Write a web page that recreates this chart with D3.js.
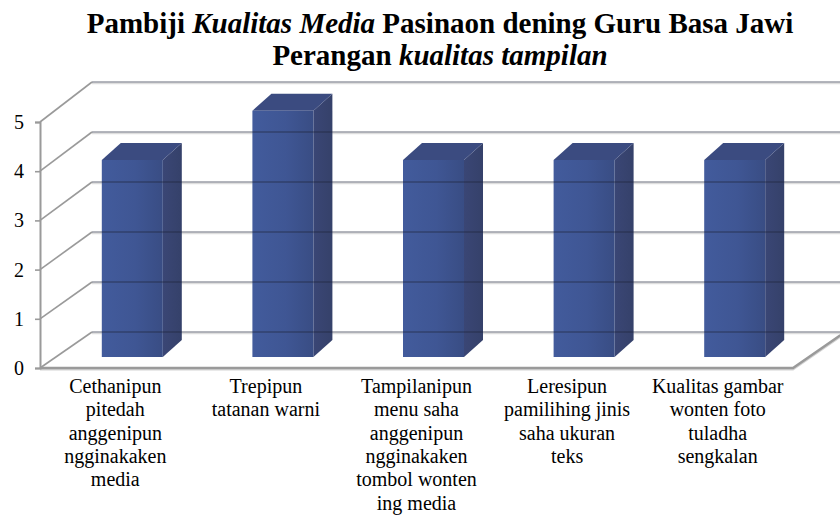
<!DOCTYPE html>
<html>
<head>
<meta charset="utf-8">
<script src="https://cdn.jsdelivr.net/npm/d3@7"></script>
<style>
  html, body { margin: 0; padding: 0; background: #fff; }
  svg { display: block; }
</style>
</head>
<body>
<svg id="chart" width="840" height="517"></svg>
<script>
// ---- data ----
const categories = [
  "Cethanipun\npitedah\nanggenipun\nngginakaken\nmedia",
  "Trepipun\ntatanan warni",
  "Tampilanipun\nmenu saha\nanggenipun\nngginakaken\ntombol wonten\ning media",
  "Leresipun\npamilihing jinis\nsaha ukuran\nteks",
  "Kualitas gambar\nwonten foto\ntuladha\nsengkalan"
];
const values = [4, 5, 4, 4, 4];
const tickValues = [0, 1, 2, 3, 4, 5];
const titleLine1 = [["Pambiji ", false], ["Kualitas Media", true], [" Pasinaon dening Guru Basa Jawi", false]];
const titleLine2 = [["Perangan ", false], ["kualitas tampilan", true]];

// ---- layout ----
const svg = d3.select("#chart");
const FONT = "\"Liberation Serif\", \"Times New Roman\", Tinos, serif";
const frontLeft = 40, frontRight = 793;
const wallDX = 52;            // depth shift of back wall
const barShift = 17;          // bar front plane x shift
const barW = 61;              // bar front width
const barDX = 19, barDY = -17;// bar depth

const x = d3.scaleBand().domain(categories).range([frontLeft, frontRight]).paddingInner(0).paddingOuter(0);
const yFront = d3.scaleLinear().domain([0, 5]).range([368, 122]);
const yBack = d3.scaleLinear().domain([0, 5]).range([332, 82]);
const yBar = d3.scaleLinear().domain([0, 5]).range([357, 110.75]);

const defs = svg.append("defs");
const gFront = defs.append("linearGradient").attr("id", "gFront").attr("x1", 0).attr("x2", 1).attr("y1", 0).attr("y2", 0);
gFront.append("stop").attr("offset", 0).attr("stop-color", "#425b9c");
gFront.append("stop").attr("offset", 0.55).attr("stop-color", "#3f5694");
gFront.append("stop").attr("offset", 1).attr("stop-color", "#394d84");
const gSide = defs.append("linearGradient").attr("id", "gSide").attr("x1", 0).attr("x2", 1).attr("y1", 0).attr("y2", 0);
gSide.append("stop").attr("offset", 0).attr("stop-color", "#3a4675");
gSide.append("stop").attr("offset", 1).attr("stop-color", "#35416a");

// ---- title ----
const title = svg.append("text")
  .attr("x", 440).attr("text-anchor", "middle")
  .style("font-family", FONT).style("font-size", "29px").style("font-weight", "bold").attr("fill", "#000");
const t1 = title.append("tspan").attr("x", 440).attr("y", 33);
titleLine1.forEach(([s, it]) => t1.append("tspan").style("font-style", it ? "italic" : "normal").text(s));
const t2 = title.append("tspan").attr("x", 440).attr("y", 65);
titleLine2.forEach(([s, it]) => t2.append("tspan").style("font-style", it ? "italic" : "normal").text(s));

// ---- walls / grid (behind) ----
const grid = svg.append("g");
grid.selectAll("line.diag").data(tickValues).join("line")
  .attr("x1", frontLeft).attr("y1", d => yFront(d))
  .attr("x2", frontLeft + wallDX).attr("y2", d => yBack(d))
  .attr("stroke", "#9a9a9a").attr("stroke-width", 1.6);
const floorPts = [[frontLeft, yFront(0)], [frontRight, yFront(0)], [frontRight + wallDX, yBack(0)]];
grid.append("path").attr("d", d3.line()(floorPts.map(p => [p[0], p[1] + 1.6])))
  .attr("fill", "none").attr("stroke", "#d4d4d4").attr("stroke-width", 2);
grid.append("path").attr("d", d3.line()(floorPts))
  .attr("fill", "none").attr("stroke", "#9a9a9a").attr("stroke-width", 2.4);
grid.selectAll("line.shadow").data(tickValues).join("line")
  .attr("x1", frontLeft + wallDX).attr("x2", 850)
  .attr("y1", d => yBack(d) + 1.5).attr("y2", d => yBack(d) + 1.5)
  .attr("stroke", "#dedede").attr("stroke-width", 1.5);

// ---- bars ----
const bars = svg.append("g").selectAll("g").data(categories.map((c, i) => ({ c, v: values[i] }))).join("g");
const bx = d => x(d.c) + x.bandwidth() / 2 - barW / 2 + barShift;
bars.append("path").attr("fill", "url(#gSide)")
  .attr("d", d => {
    const x0 = bx(d) + barW, yT = yBar(d.v), yB = yBar(0);
    return `M${x0},${yT}L${x0 + barDX},${yT + barDY}L${x0 + barDX},${yB + barDY}L${x0},${yB}Z`;
  });
bars.append("path").attr("fill", "#3b4b80")
  .attr("d", d => {
    const x0 = bx(d), yT = yBar(d.v);
    return `M${x0},${yT}L${x0 + barDX},${yT + barDY}L${x0 + barW + barDX},${yT + barDY}L${x0 + barW},${yT}Z`;
  });
bars.append("rect").attr("fill", "url(#gFront)")
  .attr("x", d => bx(d)).attr("y", d => yBar(d.v))
  .attr("width", barW).attr("height", d => yBar(0) - yBar(d.v));

// ---- back gridlines (over bars, semi-transparent) ----
svg.append("g").selectAll("line").data(tickValues).join("line")
  .attr("x1", frontLeft + wallDX).attr("x2", 850)
  .attr("y1", d => yBack(d)).attr("y2", d => yBack(d))
  .attr("stroke", "#20243a").attr("stroke-opacity", 0.45).attr("stroke-width", 1.7);

// ---- y axis ----
const yAxis = svg.append("g").attr("transform", `translate(${frontLeft},0)`)
  .call(d3.axisLeft(yFront).tickValues(tickValues).tickFormat(d3.format("d")).tickSize(5).tickPadding(11));
yAxis.attr("font-family", null).attr("font-size", null);
yAxis.select(".domain").attr("stroke", "#9a9a9a").attr("stroke-width", 2);
yAxis.selectAll(".tick line").attr("stroke", "#9a9a9a").attr("stroke-width", 1.6);
yAxis.selectAll(".tick text").style("font-family", FONT).style("font-size", "20px").attr("fill", "#000");

// ---- x labels ----
const xl = svg.append("g").selectAll("text").data(categories).join("text")
  .attr("text-anchor", "middle").style("font-family", FONT).style("font-size", "20px").attr("fill", "#000");
xl.each(function (c) {
  const t = d3.select(this);
  c.split("\n").forEach((line, i) => {
    t.append("tspan").attr("x", x(c) + x.bandwidth() / 2).attr("y", 393 + i * 23.3).text(line);
  });
});
</script>
</body>
</html>
